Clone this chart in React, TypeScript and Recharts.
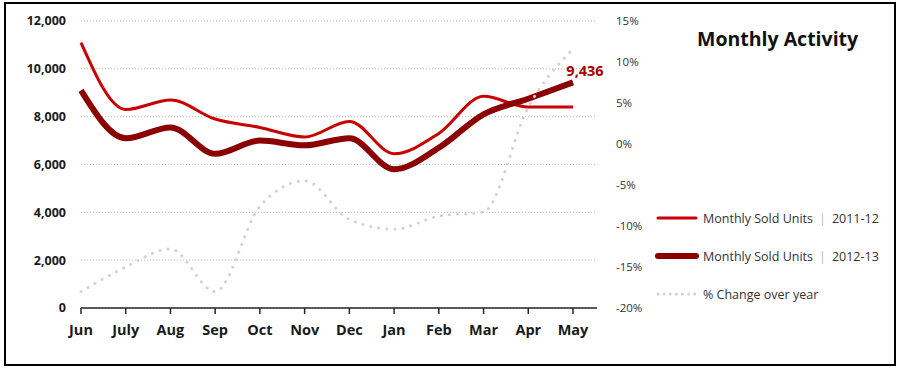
import React from "react";
import { LineChart, Line, XAxis, YAxis, CartesianGrid } from "recharts";

// values
const months = ["Jun", "July", "Aug", "Sep", "Oct", "Nov", "Dec", "Jan", "Feb", "Mar", "Apr", "May"];
const sold2011 = [11100, 8300, 8700, 7900, 7550, 7150, 7800, 6450, 7300, 8850, 8400, 8400];
const sold2012 = [9100, 7100, 7550, 6450, 7000, 6800, 7100, 5800, 6700, 8100, 8750, 9436];
const pctChange = [-18, -15, -12.8, -18, -7.6, -4.5, -9.2, -10.4, -8.8, -8.3, 4.5, 11.6];
const unitTicks = [0, 2000, 4000, 6000, 8000, 10000, 12000];
const pctTicks = [-20, -15, -10, -5, 0, 5, 10, 15];

const data = months.map((m, i) => ({
  month: m,
  s2011: sold2011[i],
  s2012: sold2012[i],
  pct: pctChange[i],
}));

const RED = "#C80000";
const DARK = "#8B0000";
const GREY = "#D3D3D3";
const FONT = "'Open Sans', sans-serif";

const lastLabel = (props: any) => {
  const { x, y, index, value } = props;
  if (index !== months.length - 1) return null;
  return (
    <text x={x + 12} y={y - 6} textAnchor="middle" fill="#A50000" fontSize={14.5} fontWeight={700} fontFamily={FONT}>
      {value.toLocaleString("en-US")}
    </text>
  );
};

const legendItems = [
  { name: "Monthly Sold Units", period: "2011-12", color: RED, width: 3, dash: undefined as string | undefined },
  { name: "Monthly Sold Units", period: "2012-13", color: DARK, width: 6, dash: undefined },
  { name: "% Change over year", period: "", color: GREY, width: 3, dash: "0.1 6" },
];

const App = () => {
  return (
    <div style={{ position: "absolute", left: 0, top: 0, width: 899, height: 370, background: "#fff" }}>
      <div
        style={{
          position: "absolute",
          left: 4,
          top: 2,
          width: 888,
          height: 360,
          border: "2px solid #000",
        }}
      />
      <div style={{ position: "absolute", left: 0, top: 0 }}>
        <LineChart width={899} height={370} data={data} margin={{ top: 21, right: 0, bottom: 0, left: 0 }}>
          <CartesianGrid yAxisId="left" vertical={false} stroke="#B8B8B8" strokeDasharray="1 2" />
          <XAxis
            dataKey="month"
            scale="point"
            padding={{ left: 0, right: 24 }}
            height={62}
            axisLine={{ stroke: "#262626", strokeWidth: 1.5 }}
            tickLine={{ stroke: "#262626", strokeWidth: 1.5 }}
            tickSize={6}
            tickMargin={11}
            tick={{ fill: "#1a1a1a", fontSize: 14.5, fontWeight: 700, fontFamily: FONT }}
            interval={0}
          />
          <YAxis
            yAxisId="left"
            width={81}
            domain={[0, 12000]}
            ticks={unitTicks}
            axisLine={false}
            tickLine={false}
            tickSize={0}
            tickMargin={15}
            tickFormatter={(v: number) => v.toLocaleString("en-US")}
            tick={{ fill: "#1a1a1a", fontSize: 12.5, fontWeight: 700, fontFamily: FONT }}
          />
          <YAxis
            yAxisId="right"
            orientation="right"
            width={302}
            domain={[-20, 15]}
            ticks={pctTicks}
            axisLine={false}
            tickLine={false}
            tickSize={0}
            tickMargin={19}
            tickFormatter={(v: number) => `${v}%`}
            tick={{ fill: "#333", fontSize: 11.5, fontFamily: FONT, textAnchor: "start" }}
          />
          <Line
            yAxisId="left"
            type="monotone"
            dataKey="s2011"
            stroke={RED}
            strokeWidth={3}
            dot={false}
            isAnimationActive={false}
          />
          <Line
            yAxisId="left"
            type="monotone"
            dataKey="s2012"
            stroke={DARK}
            strokeWidth={6}
            dot={false}
            label={lastLabel}
            isAnimationActive={false}
          />
          <Line
            yAxisId="right"
            type="monotone"
            dataKey="pct"
            stroke={GREY}
            strokeWidth={3}
            strokeDasharray="0.1 8"
            strokeLinecap="round"
            dot={false}
            isAnimationActive={false}
          />
        </LineChart>
      </div>
      <div
        style={{
          position: "absolute",
          left: 697,
          top: 25,
          fontFamily: FONT,
          fontWeight: 700,
          fontSize: 19.5,
          color: "#111",
          whiteSpace: "nowrap",
        }}
      >
        Monthly Activity
      </div>
      {legendItems.map((item, i) => (
        <div
          key={item.name + item.period}
          style={{
            position: "absolute",
            left: 655,
            top: 208 + i * 38,
            height: 20,
            display: "flex",
            alignItems: "center",
            fontFamily: FONT,
            fontSize: 12.5,
            color: "#333",
            whiteSpace: "pre",
          }}
        >
          <svg width={44} height={18} style={{ marginRight: 4 }}>
            <line
              x1={3}
              y1={9}
              x2={41}
              y2={9}
              stroke={item.color}
              strokeWidth={item.width}
              strokeDasharray={item.dash}
              strokeLinecap="round"
            />
          </svg>
          {item.name}
          {item.period && (
            <>
              <span style={{ color: "#bbb", margin: "0 6px" }}>|</span>
              {item.period}
            </>
          )}
        </div>
      ))}
    </div>
  );
};

export default App;
